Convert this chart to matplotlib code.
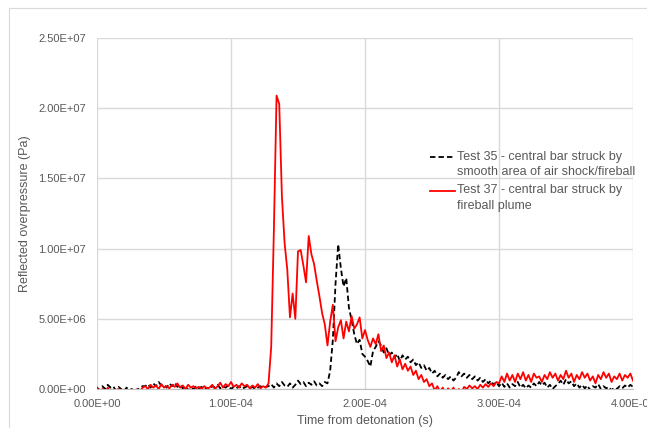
import numpy as np
import matplotlib
matplotlib.use("Agg")
import matplotlib.pyplot as plt
from matplotlib.patches import Rectangle
from matplotlib.ticker import FuncFormatter, MultipleLocator
from matplotlib.legend_handler import HandlerLine2D

plt.rcParams['font.family'] = ['Liberation Sans', 'DejaVu Sans']

# time base: 2 microsecond steps from 0 to 4.0E-04 s
dt = 2e-6
n_pts = 201

# Test 35 - reflected overpressure (MPa)
test35 = [
    0.1, -0.1, 0.2, 0.0, 0.3, 0.1, 0.2, -0.1, 0.15, 0.0,
    -0.2, 0.1, -0.1, 0.0, -0.3, -0.1, 0.1, 0.2, 0.2, 0.35,
    0.1, 0.4, 0.2, 0.5, 0.25, 0.3, 0.1, 0.4, 0.2, 0.45,
    0.15, 0.3, 0.05, 0.2, -0.1, 0.1, 0.0, 0.2, 0.05, 0.15,
    -0.1, 0.1, 0.0, 0.2, 0.1, 0.3, 0.05, 0.2, 0.1, 0.25,
    0.0, 0.15, 0.05, 0.2, 0.0, 0.1, 0.2, 0.05, 0.15, 0.0,
    0.1, 0.2, 0.05, 0.15, 0.2, 0.35, 0.1, 0.4, 0.2, 0.5,
    0.25, 0.15, 0.4, 0.1, 0.3, 0.6, 0.35, 0.5, 0.2, 0.45,
    0.3, 0.55, 0.25, 0.4, 0.2, 0.5, 0.4, 1.3, 3.5, 7.5,
    10.3, 8.6, 7.3, 7.9, 5.8, 4.9, 3.9, 3.2, 3.5, 2.5,
    2.3, 2.0, 1.6, 2.7, 3.0, 3.4, 3.1, 2.6, 2.9, 2.4,
    2.6, 2.2, 2.5, 2.0, 2.4, 2.1, 2.3, 1.9, 2.1, 1.7,
    1.9, 1.5, 1.7, 1.3, 1.5, 1.1, 1.3, 0.9, 1.1, 0.8,
    1.0, 0.7, 0.9, 0.6, 0.8, 1.2, 0.9, 1.1, 0.8, 1.0,
    0.7, 0.9, 0.6, 0.8, 0.5, 0.7, 0.4, 0.6, 0.3, 0.5,
    0.2, 0.45, 0.15, 0.4, 0.1, 0.35, 0.2, 0.5, 0.1, 0.3,
    0.05, 0.25, 0.1, 0.4, 0.2, 0.5, 0.25, 0.45, 0.1, 0.3,
    0.0, 0.2, 0.35, 0.6, 0.3, 0.7, 0.4, 0.55, 0.2, 0.4,
    0.1, 0.3, 0.05, 0.25, -0.1, 0.2, 0.1, 0.35, 0.0, 0.2,
    0.05, 0.15, -0.1, 0.1, 0.0, 0.2, 0.05, 0.25, 0.1, 0.3,
    0.15,
]

# Test 37 - reflected overpressure (MPa)
test37 = [
    0.1, -0.2, 0.0, -0.3, 0.1, -0.2, -0.4, -0.1, 0.0, -0.3,
    -0.2, -0.4, -0.1, -0.3, -0.2, 0.0, -0.2, 0.1, 0.2, 0.0,
    0.3, 0.1, 0.25, 0.0, 0.35, 0.1, 0.2, 0.05, 0.3, 0.15,
    0.4, 0.1, 0.25, 0.0, 0.3, 0.1, 0.2, 0.05, 0.15, 0.0,
    0.2, 0.05, 0.1, 0.3, 0.0, 0.2, 0.45, 0.1, 0.35, 0.2,
    0.5, 0.15, 0.3, 0.1, 0.4, 0.2, 0.3, 0.05, 0.25, 0.1,
    0.35, 0.05, 0.2, 0.1, 0.4, 3.0, 11.3, 20.9, 20.3, 13.7,
    10.4, 8.5, 5.1, 6.8, 5.0, 9.8, 9.9, 8.8, 7.6, 10.9,
    9.6, 8.9, 7.7, 6.6, 5.4, 4.6, 3.1, 4.8, 6.0, 3.4,
    4.4, 4.9, 3.6, 4.8, 4.1, 5.2, 4.3, 4.6, 5.1, 3.6,
    4.2, 3.5, 3.0, 3.6, 3.2, 3.9, 2.7, 3.1, 2.2, 2.6,
    1.9, 2.4, 1.6, 2.1, 1.4, 1.8, 1.3, 1.6, 1.0, 1.3,
    0.7, 1.0, 0.5, 0.7, 0.2, 0.4, -0.1, 0.2, -0.2, 0.1,
    -0.3, 0.05, -0.2, 0.1, -0.3, 0.0, -0.2, 0.15, 0.0, 0.25,
    0.05, 0.2, 0.0, 0.3, 0.1, 0.35, 0.15, 0.4, 0.2, 0.5,
    0.4, 0.9, 0.5, 1.1, 0.6, 1.0, 0.5, 1.1, 0.7, 1.2,
    0.6, 1.0, 0.5, 1.1, 0.8, 0.9, 0.5, 1.0, 0.7, 1.2,
    0.8, 1.1, 0.6, 1.0, 0.7, 1.3, 0.8, 1.1, 0.5, 1.0,
    0.7, 1.2, 0.8, 1.1, 0.6, 0.9, 0.4, 1.0, 0.7, 1.2,
    0.8, 1.1, 0.5, 0.9, 0.7, 1.1, 0.6, 1.0, 0.8, 1.1,
    0.6,
]

labels = ["Test 35 - central bar struck by\nsmooth area of air shock/fireball",
          "Test 37 - central bar struck by\nfireball plume"]

t = np.arange(n_pts) * dt
p35 = np.array(test35) * 1e6
p37 = np.array(test37) * 1e6

grey_txt = '#595959'
grid_c = '#d9d9d9'


class HandlerTopLine(HandlerLine2D):
    # put the legend line next to the first text line, like Excel does
    def create_artists(self, legend, orig_handle, xdescent, ydescent,
                       width, height, fontsize, trans):
        arts = super().create_artists(legend, orig_handle, xdescent, ydescent,
                                      width, height, fontsize, trans)
        for a in arts:
            a.set_ydata(np.asarray(a.get_ydata()) + 0.6 * fontsize)
        return arts


fig = plt.figure(figsize=(6.47, 4.28), dpi=100)
fig.patches.append(Rectangle((9 / 647, -0.1), 1.2, 1 - 8 / 428 + 0.1,
                             transform=fig.transFigure, fill=False,
                             edgecolor=grid_c, lw=0.8))
ax = fig.add_axes([97 / 647, 1 - 389 / 428, 536 / 647, 351 / 428])

l35, = ax.plot(t, p35, color='black', lw=1.3, dashes=(3.0, 1.7), label=labels[0], zorder=3)
l37, = ax.plot(t, p37, color='#ff0000', lw=1.3, label=labels[1], zorder=4)

ax.set_xlim(0, 4e-4)
ax.set_ylim(0, 2.5e7)
ax.xaxis.set_major_locator(MultipleLocator(1e-4))
ax.yaxis.set_major_locator(MultipleLocator(5e6))
fmt = FuncFormatter(lambda v, pos: f"{v:.2E}")
ax.xaxis.set_major_formatter(fmt)
ax.yaxis.set_major_formatter(fmt)

ax.grid(True, color=grid_c, lw=1.0, zorder=0)
for s in ['top', 'right', 'left']:
    ax.spines[s].set_visible(False)
ax.spines['bottom'].set_color('#bfbfbf')
ax.tick_params(axis='both', length=0, labelsize=8, labelcolor=grey_txt)
ax.tick_params(axis='y', pad=8)
ax.tick_params(axis='x', pad=7.5)

ax.set_xlabel('Time from detonation (s)', fontsize=9, color=grey_txt)
ax.set_ylabel('Reflected overpressure (Pa)', fontsize=9, color=grey_txt)
ax.xaxis.set_label_coords(0.5, -0.074)
ax.yaxis.set_label_coords(-0.124, 0.5)

leg = ax.legend(handles=[l35, l37], loc='upper left', bbox_to_anchor=(0.621, 0.678),
                frameon=False, fontsize=9, borderpad=0, borderaxespad=0,
                handlelength=2.0, handletextpad=0.15, labelspacing=0.5,
                handler_map={l35: HandlerTopLine(), l37: HandlerTopLine()})
for txt in leg.get_texts():
    txt.set_color(grey_txt)
    txt.set_linespacing(1.35)

fig.savefig('out.png', dpi=100)
